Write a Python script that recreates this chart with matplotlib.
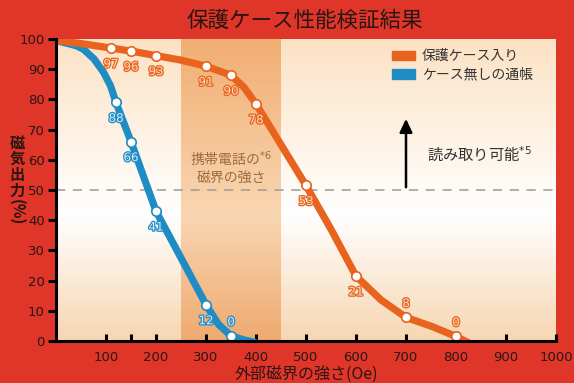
import numpy as np
import matplotlib
matplotlib.use("Agg")
import matplotlib.pyplot as plt
import matplotlib.patheffects as pe
from matplotlib.patches import Rectangle

plt.rcParams['font.family'] = ['Noto Sans CJK JP', 'DejaVu Sans']

# ---- data ----
title = "保護ケース性能検証結果"
xlabel = "外部磁界の強さ(Oe)"
series_names = ["保護ケース入り", "ケース無しの通帳"]

# marker points (x in Oe, y in %), with printed labels
case_x = [110, 150, 200, 300, 350, 400, 500, 600, 700, 800]
case_y = [97, 96, 94.5, 91, 88, 78.5, 51.5, 21.5, 7.8, 1.5]
case_lbl = ["97", "96", "93", "91", "90", "78", "53", "21", "8", "0"]
case_lbl_above = [False, False, False, False, False, False, False, False, True, True]

bare_x = [120, 150, 200, 300, 350]
bare_y = [79, 66, 43, 12, 1.7]
bare_lbl = ["88", "66", "41", "12", "0"]
bare_lbl_above = [False, False, False, False, True]

# curve traces
case_curve_x = [0, 50, 110, 150, 200, 250, 300, 350, 376, 400, 450, 500, 550, 600, 650, 700, 752, 800, 830]
case_curve_y = [99.5, 98.5, 97, 96, 94.5, 93, 91, 88, 84, 78.5, 65, 51.5, 37, 21.5, 13.6, 7.8, 4.8, 1.5, -1]
bare_curve_x = [0, 40, 55, 76, 95, 109, 120, 150, 175, 200, 250, 300, 325, 350, 375, 400]
bare_curve_y = [99.5, 97.8, 96.6, 93.4, 89, 84.5, 79, 66, 54.5, 43, 27.5, 12, 5.5, 1.7, 0.4, -0.5]

band = (250, 450)
band_text = "携帯電話の$^{*6}$\n磁界の強さ"
read_text = "読み取り可能$^{*5}$"
threshold = 50
arrow_x, arrow_y0, arrow_y1 = 700, 50, 74.5

xticks = [100, 150, 200, 300, 400, 500, 600, 700, 800, 900, 1000]
xticklabels = ["100", "", "200", "300", "400", "500", "600", "700", "800", "900", "1000"]
yticks = list(range(0, 101, 10))

# ---- style ----
RED = "#E0362A"
ORANGE = "#E8631D"
BLUE = "#1F8CC4"
DARK = "#2A1512"

fig = plt.figure(figsize=(5.74, 3.83), dpi=100, facecolor=RED)
ax = fig.add_axes([56/574, 1 - 341/383, 500/574, 302/383])
ax.set_xlim(0, 1000)
ax.set_ylim(0, 100)

# background gradients
yy = np.linspace(0, 1, 256)
def grad(top, mid, bot, midpos):
    top, mid, bot = [np.array(c, float) / 255 for c in (top, mid, bot)]
    col = np.zeros((256, 3))
    for i, t in enumerate(yy):
        if t < midpos:
            f = t / midpos
            col[i] = bot + (mid - bot) * f
        else:
            f = (t - midpos) / (1 - midpos)
            col[i] = mid + (top - mid) * f
    return col[:, None, :]

bg = grad((252, 226, 196), (255, 255, 255), (247, 214, 178), 0.42)
ax.imshow(bg, extent=(0, 1000, 0, 100), origin="lower", aspect="auto", zorder=0)
bandimg = grad((241, 174, 114), (249, 214, 178), (239, 170, 112), 0.42)
ax.imshow(bandimg, extent=(band[0], band[1], 0, 100), origin="lower", aspect="auto", zorder=0.5)

ax.axhline(threshold, color="#9A9A9A", lw=1.1, ls=(0, (6, 5)), zorder=1)

ax.plot(bare_curve_x, bare_curve_y, color=BLUE, lw=5.2, solid_joinstyle="round",
        solid_capstyle="butt", zorder=2, clip_on=True)
ax.plot(case_curve_x, case_curve_y, color=ORANGE, lw=5.2, solid_joinstyle="round",
        solid_capstyle="butt", zorder=2, clip_on=True)
ax.plot(case_x, case_y, ls="none", marker="o", ms=6.8, mfc="white", mec=ORANGE, mew=1.2, zorder=3)
ax.plot(bare_x, bare_y, ls="none", marker="o", ms=6.8, mfc="white", mec=BLUE, mew=1.2, zorder=3)

def labels(xs, ys, ls, above, col, fill):
    for x, y, s, a in zip(xs, ys, ls, above):
        ax.annotate(s, (x, y), xytext=(0, 10 if a else -11.5), textcoords="offset points",
                    ha="center", va="center", fontsize=8.5, color=fill, family="DejaVu Sans",
                    path_effects=[pe.withStroke(linewidth=1.8, foreground=col)], zorder=4)

labels(case_x, case_y, case_lbl, case_lbl_above, ORANGE, "#FBD9BE")
labels(bare_x, bare_y, bare_lbl, bare_lbl_above, BLUE, "#D6ECF7")

ax.text(350, 57.5, band_text, ha="center", va="center", fontsize=10, color="#9C6A3C",
        linespacing=1.3, zorder=4)

ax.annotate("", xy=(arrow_x, arrow_y1), xytext=(arrow_x, arrow_y0),
            arrowprops=dict(arrowstyle="-|>,head_length=0.8,head_width=0.38", color="black", lw=1.8),
            zorder=4)
ax.text(742, 61.5, read_text, ha="left", va="center", fontsize=11, color="#333333", zorder=4)

# legend (patches in axes coords)
for i, (name, col) in enumerate(zip(series_names, [ORANGE, BLUE])):
    yc = 1 - (55.5 + 18.5 * i - 39) / 302
    ax.add_patch(Rectangle(((392 - 56) / 500, yc - 4.5 / 302), 23 / 500, 9 / 302,
                           transform=ax.transAxes, color=col, zorder=5, clip_on=False))
    ax.text((422 - 56) / 500, yc, name, transform=ax.transAxes, ha="left", va="center",
            fontsize=10, color="#333333", zorder=5)

for s in ["top", "right"]:
    ax.spines[s].set_visible(False)
for s in ["left", "bottom"]:
    ax.spines[s].set_linewidth(2.2)
    ax.spines[s].set_color("black")
    ax.spines[s].set_zorder(6)

ax.set_yticks(yticks)
ax.set_yticklabels([str(v) for v in yticks], fontsize=9.5, color=DARK, family="DejaVu Sans")
ax.tick_params(axis="y", direction="out", length=6, width=2.2, pad=2)
ax.set_xticks(xticks)
ax.set_xticklabels(xticklabels, fontsize=9.5, color=DARK, family="DejaVu Sans")
ax.tick_params(axis="x", direction="in", length=5, width=2.2, pad=7)

fig.text(305 / 574, 1 - 21 / 383, title, ha="center", va="center", fontsize=15.5, color=DARK)
fig.text(306 / 574, 1 - 375 / 383, xlabel, ha="center", va="center", fontsize=11.5, color=DARK)
fig.text(17 / 574, 1 - 167 / 383, "磁\n気\n出\n力", ha="center", va="center", fontsize=11,
         color=DARK, linespacing=1.0, fontweight="bold")
fig.text(17 / 574, 1 - 212 / 383, "(%)", ha="center", va="center", fontsize=11, color=DARK,
         rotation=-90, fontweight="bold")

fig.savefig("out.png", dpi=100, facecolor=RED)
